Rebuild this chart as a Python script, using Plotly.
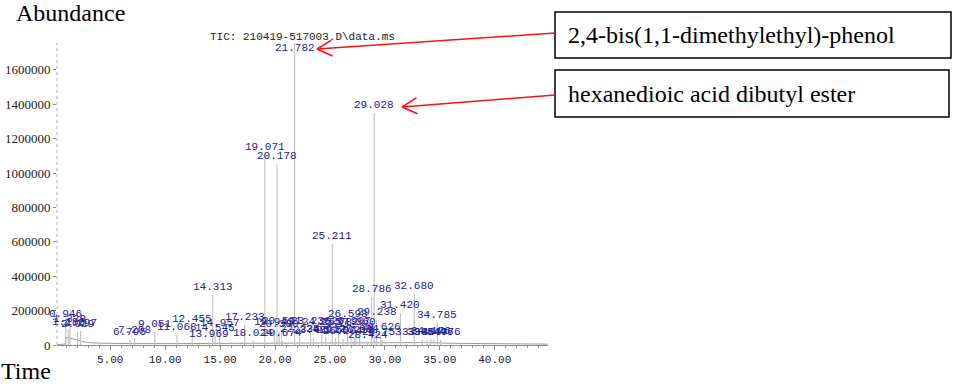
import numpy as np
import plotly.graph_objects as go

# ---------------- data ----------------
peak_labels = ["0.946", "1.186", "1.329", "2.029", "2.297", "6.795", "7.208", "9.051",
               "11.068", "12.455", "13.969", "14.313", "14.545", "14.957", "17.233", "18.024",
               "19.071", "19.943", "20.178", "20.380", "20.591", "20.674", "21.782", "22.235",
               "23.236", "23.482", "24.265", "24.612", "25.211", "25.507", "25.782", "26.204",
               "26.598", "26.907", "27.219", "27.360", "27.684", "28.424", "28.786", "29.028",
               "29.238", "29.626", "29.753", "31.420", "32.680", "33.404", "33.844", "34.176",
               "34.476", "34.785", "35.076"]
peak_times = [float(s) for s in peak_labels]
peak_heights = [134000, 87000, 105000, 76000, 81000, 29000, 41000, 76000,
                58000, 105000, 17000, 291000, 52000, 81000, 116000, 23000,
                1105000, 87000, 1050000, 76000, 93000, 23000, 1800000, 47000,
                93000, 41000, 87000, 47000, 587000, 41000, 87000, 35000,
                134000, 93000, 41000, 87000, 47000, 12000, 279000, 1349000,
                145000, 58000, 29000, 186000, 297000, 29000, 29000, 35000,
                29000, 128000, 29000]

baseline_t = [0.2, 0.9, 1.0, 1.5, 2.0, 2.5, 3, 4, 5, 7, 10, 13, 16, 19, 22, 25,
              28, 30, 32, 34, 36, 38, 40, 42, 44.8]
baseline_v = [3000, 5000, 45000, 35000, 28000, 20000, 14000, 11000, 9000, 8000, 8000,
              9000, 10000, 11000, 12000, 13000, 15000, 16000, 15000, 14000, 10000,
              8000, 7000, 6000, 5000]

y_tick_vals = [0, 200000, 400000, 600000, 800000, 1000000, 1200000, 1400000, 1600000]
y_tick_text = [str(v) for v in y_tick_vals]
x_tick_vals = [5, 10, 15, 20, 25, 30, 35, 40]
x_tick_text = ["%.2f" % v for v in x_tick_vals]

compounds = ["2,4-bis(1,1-dimethylethyl)-phenol", "hexanedioic acid dibutyl ester"]
title_text = "TIC: 210419-517003.D\\data.ms"

# ---------------- layout geometry (pixels) ----------------
W, H = 957, 386
L, R, T, B = 57, 548, 43, 345
PW, PH = R - L, B - T


def px(x):
    return (x - L) / PW


def py(y):
    return (B - y) / PH


X_RANGE = [0.15, 44.85]
Y_RANGE = [0, 1756000]

fig = go.Figure()

fig.add_trace(go.Scatter(x=baseline_t, y=baseline_v, mode="lines",
                         line=dict(color="#9a9a9a", width=1), hoverinfo="skip",
                         showlegend=False))

sx, sy = [], []
for t, h in zip(peak_times, peak_heights):
    sx += [t, t, None]
    sy += [0, h, None]
fig.add_trace(go.Scatter(x=sx, y=sy, mode="lines",
                         line=dict(color="#c4c4c4", width=1.2), hoverinfo="skip",
                         showlegend=False))

label_y = np.minimum(np.array(peak_heights), 1680000)
annotations = []
for lab, t, yv in zip(peak_labels, peak_times, label_y):
    annotations.append(dict(x=t, y=float(yv), xref="x", yref="y", text=lab,
                            showarrow=False, xanchor="center", yanchor="bottom",
                            yshift=0,
                            font=dict(family="Liberation Mono", size=11, color="#20209a")))

annotations.append(dict(x=0.5, y=py(37), xref="paper", yref="paper", text=title_text,
                        showarrow=False, xanchor="center", yanchor="middle",
                        font=dict(family="Liberation Mono", size=11, color="#222")))
annotations.append(dict(x=px(14), y=py(13), xref="paper", yref="paper", text="Abundance",
                        showarrow=False, xanchor="left", yanchor="middle",
                        font=dict(family="Liberation Serif", size=24, color="#000")))
annotations.append(dict(x=px(-1), y=py(371), xref="paper", yref="paper", text="Time",
                        showarrow=False, xanchor="left", yanchor="middle",
                        font=dict(family="Liberation Serif", size=24, color="#000")))

shapes = []
boxes = [(555, 12, 951, 58), (555, 70, 949, 117)]
for (x0, y0, x1, y1), name in zip(boxes, compounds):
    shapes.append(dict(type="rect", xref="paper", yref="paper",
                       x0=px(x0), x1=px(x1), y0=py(y1), y1=py(y0),
                       line=dict(color="#000", width=1.5), fillcolor="white"))
    annotations.append(dict(x=px(566), y=py((y0 + y1) / 2), xref="paper", yref="paper",
                            text=name, showarrow=False, xanchor="left", yanchor="middle",
                            font=dict(family="Liberation Serif", size=24, color="#000")))

arrows = [((555, 33), (317, 49)), ((555, 95), (402, 107))]
for (sx0, sy0), (tx, ty) in arrows:
    shapes.append(dict(type="line", xref="paper", yref="paper",
                       x0=px(sx0), y0=py(sy0), x1=px(tx), y1=py(ty),
                       line=dict(color="#ff1010", width=1.5)))
    u = np.array([sx0 - tx, sy0 - ty], dtype=float)
    u /= np.linalg.norm(u)
    for ang in (np.radians(28), -np.radians(28)):
        rot = np.array([[np.cos(ang), -np.sin(ang)], [np.sin(ang), np.cos(ang)]])
        v = rot @ u * 17
        shapes.append(dict(type="line", xref="paper", yref="paper",
                           x0=px(tx), y0=py(ty), x1=px(tx + v[0]), y1=py(ty + v[1]),
                           line=dict(color="#ff1010", width=1.5)))

# dotted y-axis line
shapes.append(dict(type="line", xref="paper", yref="paper", x0=0, x1=0, y0=0, y1=1,
                   line=dict(color="#b0b0b0", width=1, dash="dot")))

fig.update_layout(
    width=W, height=H,
    margin=dict(l=L, r=W - R, t=T, b=H - B, pad=0, autoexpand=False),
    paper_bgcolor="white", plot_bgcolor="white",
    showlegend=False,
    annotations=annotations,
    shapes=shapes,
    xaxis=dict(range=X_RANGE, tickvals=x_tick_vals, ticktext=x_tick_text,
               automargin=False,
               showgrid=False, zeroline=False, showline=True, linecolor="#8a8a8a",
               linewidth=1, ticks="outside", ticklen=4, tickcolor="#8a8a8a",
               minor=dict(dtick=1, ticks="outside", ticklen=2, tickcolor="#9a9a9a"),
               tickfont=dict(family="Liberation Mono", size=11, color="#222")),
    yaxis=dict(range=Y_RANGE, tickvals=y_tick_vals, ticktext=y_tick_text,
               automargin=False,
               showgrid=False, zeroline=False, showline=False,
               ticks="outside", ticklen=3, tickcolor="#8a8a8a",
               tickfont=dict(family="Liberation Serif", size=13, color="#222")),
)

fig.write_html("out.html", config={"displayModeBar": False},
               post_script="document.body.style.margin='0px';document.body.style.overflow='hidden';")
